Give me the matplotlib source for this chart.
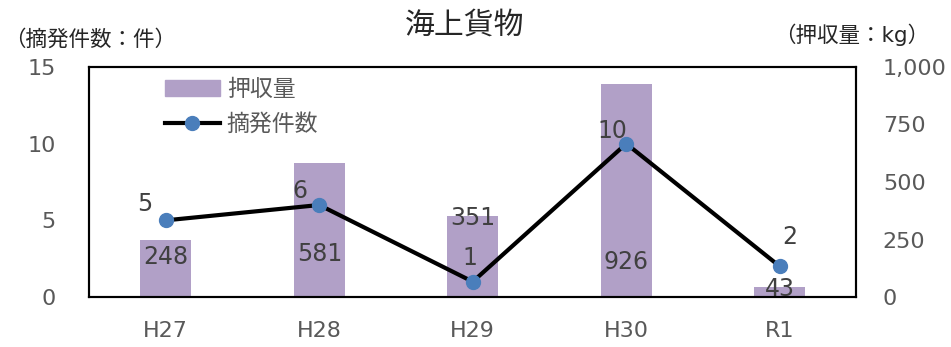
import matplotlib.pyplot as plt
from matplotlib.lines import Line2D
from matplotlib.patches import Patch

plt.rcParams['font.family'] = ['DejaVu Sans', 'Noto Sans CJK JP']

years = ["H27", "H28", "H29", "H30", "R1"]
seized_kg = [248, 581, 351, 926, 43]
cases = [5, 6, 1, 10, 2]

# label placement (kg-axis y for bar labels, point offsets for case labels)
bar_label_y = [174, 189, 343, 152, 37]
case_offsets = [(-15, 12), (-14, 10), (-2, 17), (-10, 9), (7, 21)]

bar_color = "#b1a0c7"
line_color = "#000000"
marker_color = "#4a7ebb"
text_grey = "#595959"

fig = plt.figure(figsize=(9.51, 3.47), dpi=100)
ax = fig.add_axes([0.0936, 0.144, 0.807, 0.663])
ax2 = ax.twinx()

x = list(range(len(years)))

# bars on the right (kg) axis, line on the left (count) axis
ax2.bar(x, seized_kg, width=0.33, color=bar_color, zorder=1)
ax2.set_ylim(0, 1000)
ax2.set_yticks([0, 250, 500, 750, 1000])
ax2.set_yticklabels(["0", "250", "500", "750", "1,000"])

ax.set_zorder(ax2.get_zorder() + 1)
ax.patch.set_visible(False)
ax.plot(x, cases, color=line_color, lw=3, marker="o", ms=10,
        mfc=marker_color, mec=marker_color, zorder=3)
ax.set_ylim(0, 15)
ax.set_yticks([0, 5, 10, 15])
ax.set_xlim(-0.5, 4.5)
ax.set_xticks(x)
ax.set_xticklabels(years)

for a in (ax, ax2):
    a.tick_params(length=0, labelsize=16, labelcolor=text_grey)
    for s in a.spines.values():
        s.set_color("black")
        s.set_linewidth(1.5)
ax.tick_params(axis="y", pad=24)
ax.tick_params(axis="x", pad=17)
ax2.tick_params(axis="y", pad=19)

for xi, v, ly in zip(x, seized_kg, bar_label_y):
    ax2.text(xi, ly, str(v), ha="center", va="center", fontsize=17,
             color="#404040", zorder=2)

for xi, v, (dx, dy) in zip(x, cases, case_offsets):
    ax.annotate(str(v), (xi, v), xytext=(dx, dy), textcoords="offset points",
                ha="center", va="center", fontsize=17, color="#404040")

handles = [Patch(color=bar_color),
           Line2D([], [], color=line_color, lw=3, marker="o", ms=10,
                  mfc=marker_color, mec=marker_color)]
ax.legend(handles, ["押収量", "摘発件数"], loc="upper left",
          bbox_to_anchor=(0.072, 1.04), frameon=False, fontsize=16.5,
          handlelength=2.4, handletextpad=0.3, labelspacing=0.5,
          labelcolor=text_grey)

fig.text(0.489, 0.928, "海上貨物", ha="center", va="center", fontsize=21.5,
         color="#262626")
fig.text(0.004, 0.885, "（摘発件数：件）", ha="left", va="center", fontsize=15.5,
         color="#262626")
fig.text(0.977, 0.899, "（押収量：kg）", ha="right", va="center", fontsize=15.5,
         color="#262626")

fig.savefig("out.png", dpi=100)
